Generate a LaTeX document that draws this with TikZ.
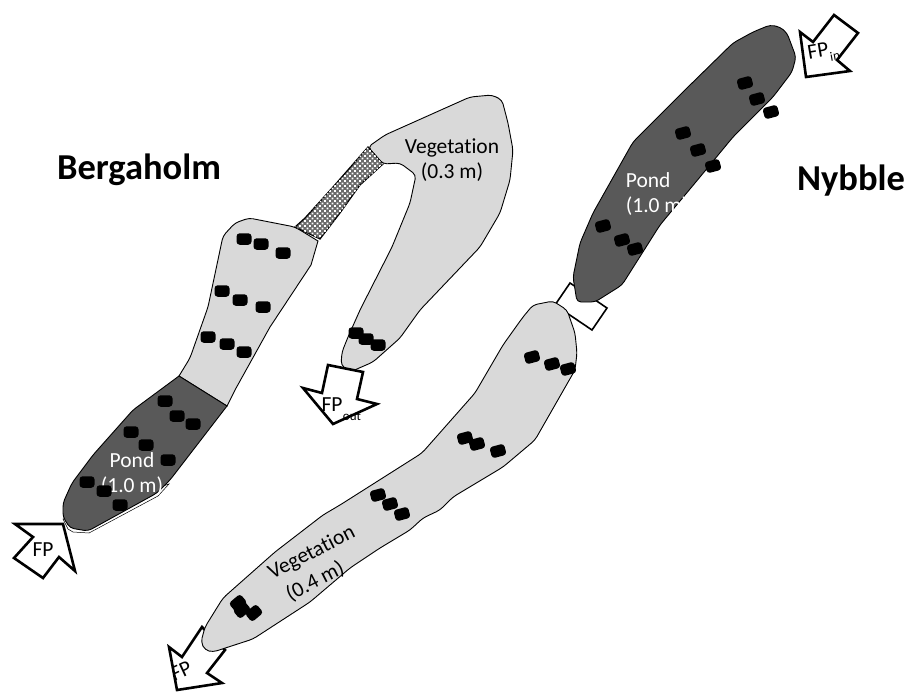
\documentclass[tikz,border=0pt]{standalone}
\usepackage{fontspec}
\setmainfont{Carlito}[Ligatures=NoCommon]
\usetikzlibrary{patterns}
\definecolor{vegfill}{gray}{0.85}
\definecolor{pondfill}{gray}{0.35}
\pgfdeclarepatternformonly{meshdots}{\pgfqpoint{-1pt}{-1pt}}{\pgfqpoint{5pt}{5pt}}{\pgfqpoint{5pt}{5pt}}{
  \pgfpathrectangle{\pgfqpoint{-0.9pt}{-0.9pt}}{\pgfqpoint{1.8pt}{1.8pt}}
  \pgfpathrectangle{\pgfqpoint{1.6pt}{1.6pt}}{\pgfqpoint{1.8pt}{1.8pt}}
  \pgfusepath{fill}}
\tikzset{
  veg/.style     = {draw=black, fill=vegfill, line width=0.9pt},
  pond/.style    = {draw=black, fill=pondfill, line width=0.9pt},
  mesh/.style    = {draw=black, fill=black!58, line width=1.2pt},
  flow/.style    = {draw=black, fill=white, line width=2.6pt, miter limit=10},
  link/.style    = {draw=black, fill=white, line width=1.6pt},
  plant/.style   = {fill=black, rounded corners=3.2pt, minimum width=15pt, minimum height=11.5pt, inner sep=0pt},
  site/.style    = {font=\bfseries\fontsize{36.5}{40}\selectfont},
  lab/.style     = {font=\fontsize{21.5}{25.5}\selectfont, align=center},
  flab/.style    = {font=\fontsize{21.5}{22}\selectfont, inner sep=0pt},
  fsub/.style    = {font=\fontsize{13}{13}\selectfont, inner sep=0pt},
}
\begin{document}
\begin{tikzpicture}[x=1pt,y=-1pt]
  \useasboundingbox (0,0) rectangle (909,691);
  % Bergaholm
  \draw[veg] (179,376) [rounded corners=4pt] -- (190,358) -- (208,307) -- (223,236) -- (235,223) -- (249,218)
     -- (295,227) [sharp corners] -- (318,241) -- (311,265) -- (270,327) -- (235,390) -- (227,406) -- cycle;
  \draw[line width=0.5pt, fill=white] (63,519) -- (68,529) -- (73,532) -- (89,533) -- (158,496) -- (169,484) -- cycle;
  \draw[pond] (179,376) [rounded corners=4pt] -- (133,410) -- (93,455) -- (72,483) -- (63,503) -- (63,517) -- (70,528)
     -- (88,531) -- (157,493) -- (170,480) [sharp corners] -- (227,406) -- cycle;
  \draw[veg, rounded corners=4pt] (385,135) -- (470,97) -- (492,95) -- (502,100) -- (508,123) -- (513,150)
     -- (510,180) -- (500,213) -- (480,247) -- (420,310) -- (400,338) -- (373,362) -- (350,372)
     -- (341,365) -- (342,352) -- (348,337) -- (360,310) -- (392,247) -- (410,203) -- (416,175)
     -- (400,163) -- (383,164) -- (368,147) -- cycle;
  \draw[mesh] (295,227) -- (305,218) -- (333,187) -- (368,147) -- (383,164) -- (360,185)
     -- (340,213) -- (320,239) -- cycle;
  \fill[pattern=meshdots, pattern color=white] (295,227) -- (305,218) -- (333,187) -- (368,147) -- (383,164)
     -- (360,185) -- (340,213) -- (320,239) -- cycle;
  \draw[flow] (15,524) -- (63,524) -- (75,571) -- (59,557) -- (43,578) -- (14,558) -- (33,537) -- cycle;
  \draw[flow] (328,365) -- (363,372) -- (357,399) -- (377,404) -- (333,424) -- (303,388) -- (322,393) -- cycle;
  \node[site] (bergaholm) at (139,170) {Bergaholm};
  \node[lab] (vegB) at (452,160) {Vegetation\\(0.3 m)};
  \node[lab, text=white] (pondB) at (132,474) {Pond\\(1.0 m)};
  \node[flab] (fpB) at (43,550) {FP};
  \node[flab] (fpBout) at (332,405) {FP};
  \node[fsub] (outB) at (352,416) {out};
  \foreach \x/\y in {244/239,261/244,283/253,222/291,240/300,263/307,208/337,227/344,244/352,
     165/401,177/416,193/424,131/432,146/445,168/460,87/482,104/491,120/505,356/333,366/339,378/345}
    {\node[plant] at (\x,\y) {};}
  % Nybble
  \draw[link] (570,283) -- (607,308) -- (592,330) -- (555,305) -- cycle;
  \draw[flow] (800,32) -- (813,42) -- (834,15) -- (858,33) -- (837,60) -- (850,71) -- (806,77) -- cycle;
  \fill[white] (202,627) -- (182,657) -- (169,647) -- (177,690) -- (222,683) -- (207,673) -- (225,650) -- cycle;
  \begin{scope}
    \clip (202,627) -- (182,657) -- (169,647) -- (177,690) -- (222,683) -- (207,673) -- (225,650) -- cycle;
    \node[flab, rotate=25] (fpNout) at (181,671) {FP};
  \end{scope}
  \draw[flow, fill=none] (202,627) -- (182,657) -- (169,647) -- (177,690) -- (222,683) -- (207,673) -- (225,650) -- cycle;
  \draw[pond, rounded corners=4pt] (770,25) -- (780,27) -- (787,33) -- (796,57) -- (792,72) -- (773,97) -- (733,137)
     -- (700,177) -- (660,225) -- (622,285) -- (595,302) -- (577,302) -- (573,277) -- (580,243)
     -- (593,213) -- (633,142) -- (687,88) -- (733,43) -- (753,32) -- cycle;
  \draw[veg, rounded corners=4pt] (533,305) -- (553,301) -- (567,310) -- (575,333) -- (577,353) -- (575,370) -- (535,440)
     -- (503,467) -- (453,497) -- (440,510) -- (423,518) -- (410,530) -- (380,548) -- (350,568) -- (310,602)
     -- (253,639) -- (213,652) -- (205,650) -- (201,642) -- (205,627) -- (223,598) -- (275,552) -- (323,515)
     -- (340,505) -- (422,453) -- (475,393) -- (503,345) -- (523,317) -- cycle;
  \node[site] (nybble) at (851,181) {Nybble};
  \node[lab, text=white, align=left] (pondN) at (657,194) {Pond\\(1.0 m)};
  \node[lab, rotate=27] (vegN) at (318,565) {Vegetation\\[2pt]\hspace*{-20pt}(0.4 m)};
  \node[flab, rotate=10] (fpN) at (818,51) {FP};
  \node[fsub, rotate=10] (inN) at (835,56) {in};
  \foreach \x/\y in {745/83,757/99,771/112,683/133,698/150,713/166,603/226,622/240,635/249,
     532/357,552/364,568/369,465/438,477/444,498/451,378/495,390/504,402/514}
    {\node[plant, rotate=15] at (\x,\y) {};}
  \foreach \x/\y in {238/603,242/610,254/613}
    {\node[plant, rotate=40] at (\x,\y) {};}
\end{tikzpicture}
\end{document}
